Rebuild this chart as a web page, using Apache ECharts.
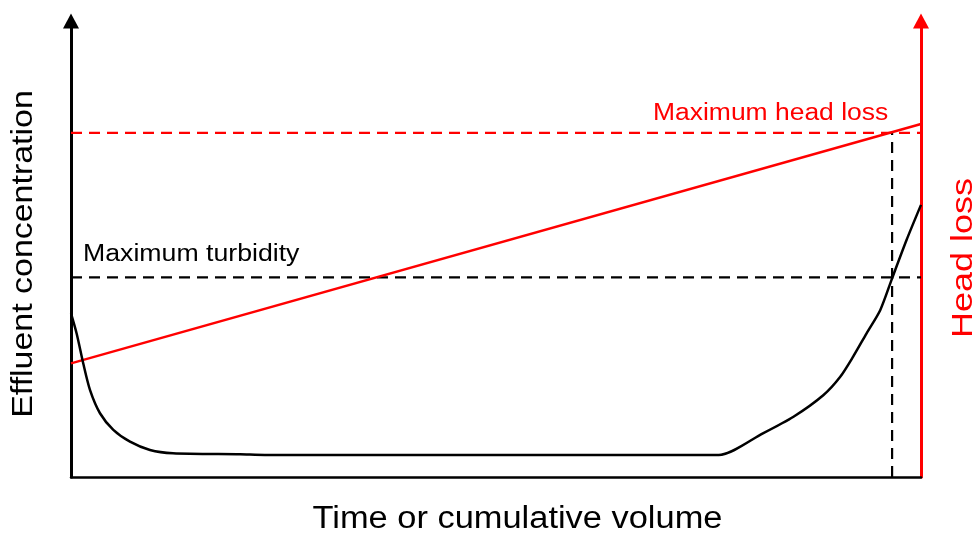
<!DOCTYPE html>
<html>
<head>
<meta charset="utf-8">
<script src="https://cdn.jsdelivr.net/npm/echarts@6/dist/echarts.min.js"></script>
<style>
html,body{margin:0;padding:0;background:#fff;}
#chart{width:980px;height:535px;}
</style>
</head>
<body>
<div id="chart"></div>
<script>
// ---- data ----
const curveX = [0, 0.67, 1.45, 2.24, 3.41, 4.98, 6.94, 9.29, 12.0, 19.9, 22.8, 76.2, 81.4, 85.0, 88.5, 90.5, 92.0, 93.6, 95.2, 96.6, 98.3, 100];
const curveY = [35.4, 31.0, 24.5, 18.8, 13.8, 10.2, 7.64, 5.84, 5.13, 4.91, 4.76, 4.76, 9.46, 13.05, 17.7, 21.7, 26.0, 31.1, 36.1, 43.0, 51.3, 58.9];
const headLossX = [0, 100];
const headLossY = [24.6, 76.4];
const maxHeadLoss = 74.5;
const maxTurbidity = 43.2;
const breakthroughX = 96.6;
const xRange = [0, 100];
const yRange = [0, 98.7];
const labels = {
  xTitle: 'Time or cumulative volume',
  yTitle: 'Effluent concentration',
  y2Title: 'Head loss',
  turbidity: 'Maximum turbidity',
  headLoss: 'Maximum head loss'
};

const zip = (xs, ys) => xs.map((x, i) => [x, ys[i]]);
const FONT = '"Liberation Sans", Arial, sans-serif';
const RED = '#ff0000';
const DASH = [11, 7];

const chart = echarts.init(document.getElementById('chart'), null, {renderer: 'canvas'});
chart.setOption({
  animation: false,
  backgroundColor: '#ffffff',
  grid: {left: 71, right: 59, top: 21, bottom: 58, containLabel: false},
  xAxis: {
    type: 'value', min: xRange[0], max: xRange[1],
    axisLine: {show: true, onZero: false, lineStyle: {color: '#000', width: 2.5}},
    axisTick: {show: false}, axisLabel: {show: false}, splitLine: {show: false}
  },
  yAxis: [{
    type: 'value', min: yRange[0], max: yRange[1], position: 'left',
    axisLine: {show: true, onZero: false, symbol: ['none', 'triangle'], symbolSize: [16, 15], lineStyle: {color: '#000', width: 3}},
    axisTick: {show: false}, axisLabel: {show: false}, splitLine: {show: false}
  }, {
    type: 'value', min: yRange[0], max: yRange[1], position: 'right',
    axisLine: {show: true, onZero: false, symbol: ['none', 'triangle'], symbolSize: [16, 15], lineStyle: {color: RED, width: 3}},
    axisTick: {show: false}, axisLabel: {show: false}, splitLine: {show: false}
  }],
  series: [
    {
      type: 'line', data: zip([xRange[0], xRange[1]], [maxHeadLoss, maxHeadLoss]),
      symbol: 'none', lineStyle: {color: RED, width: 2.2, type: DASH}, silent: true
    },
    {
      type: 'line', data: zip([xRange[0], xRange[1]], [maxTurbidity, maxTurbidity]),
      symbol: 'none', lineStyle: {color: '#000', width: 2.2, type: DASH}, silent: true
    },
    {
      type: 'line', data: zip([breakthroughX, breakthroughX], [yRange[0], maxHeadLoss]),
      symbol: 'none', lineStyle: {color: '#000', width: 2.2, type: DASH}, silent: true
    },
    {
      type: 'line', data: zip(headLossX, headLossY),
      symbol: 'none', lineStyle: {color: RED, width: 2.5}, silent: true
    },
    {
      type: 'line', data: zip(curveX, curveY), smooth: 0.25,
      symbol: 'none', lineStyle: {color: '#000', width: 2.5}, silent: true
    }
  ],
  graphic: [
    {type: 'text', x: 517.5, y: 519.5, scaleX: 1.11, style: {text: labels.xTitle, font: '31px ' + FONT, fill: '#000', textAlign: 'center', textVerticalAlign: 'middle'}},
    {type: 'text', x: 24, y: 254, rotation: Math.PI / 2, scaleX: 1.17, style: {text: labels.yTitle, font: '29px ' + FONT, fill: '#000', textAlign: 'center', textVerticalAlign: 'middle'}},
    {type: 'text', x: 964, y: 258, rotation: Math.PI / 2, scaleX: 1.2, style: {text: labels.y2Title, font: '30px ' + FONT, fill: RED, textAlign: 'center', textVerticalAlign: 'middle'}},
    {type: 'text', x: 83, y: 255, scaleX: 1.16, style: {text: labels.turbidity, font: '23px ' + FONT, fill: '#000', textAlign: 'left', textVerticalAlign: 'middle'}},
    {type: 'text', x: 653, y: 113.5, scaleX: 1.15, style: {text: labels.headLoss, font: '23px ' + FONT, fill: RED, textAlign: 'left', textVerticalAlign: 'middle'}}
  ]
});
</script>
</body>
</html>
